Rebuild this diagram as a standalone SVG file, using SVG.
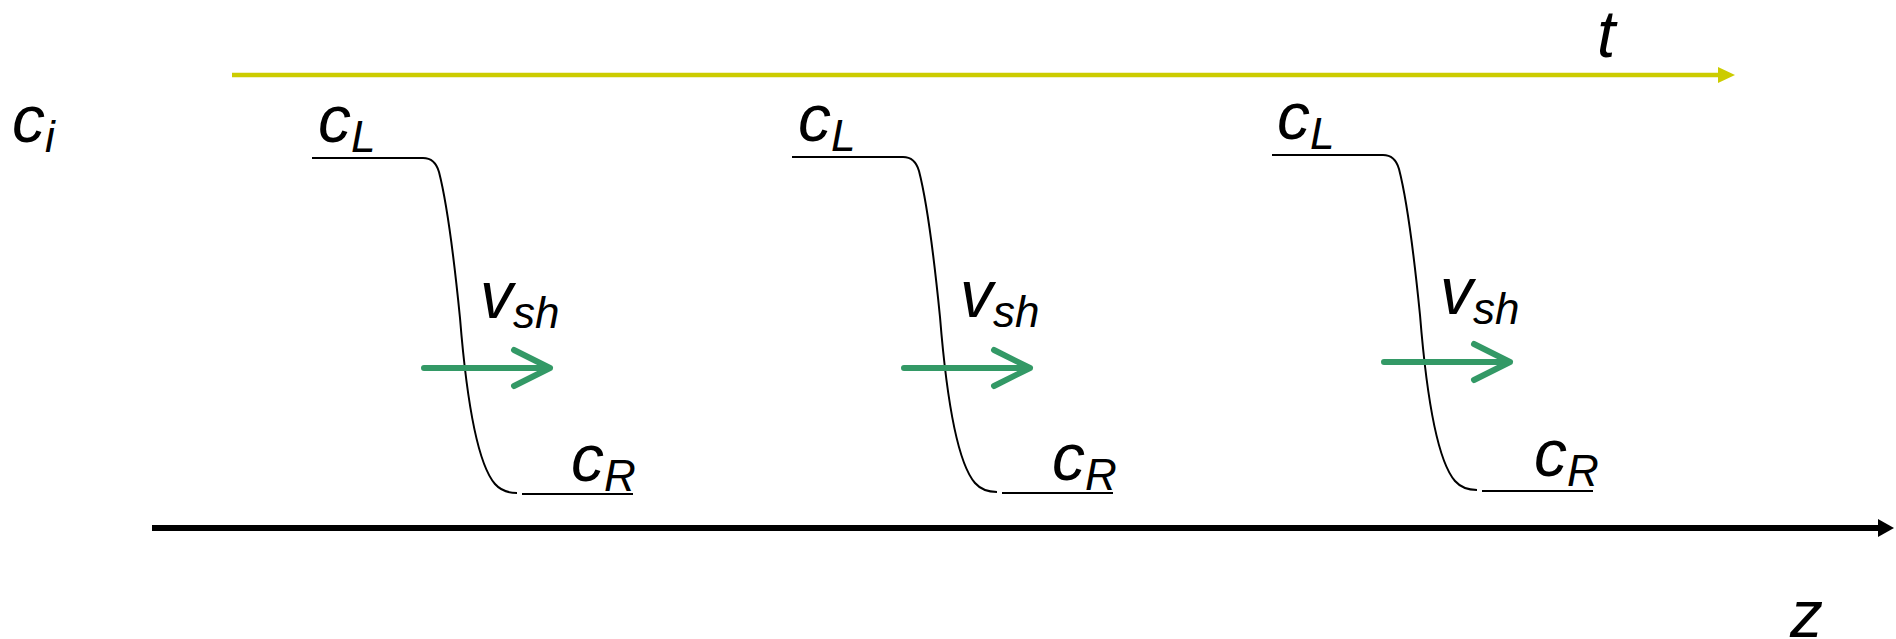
<svg xmlns="http://www.w3.org/2000/svg" width="1896" height="639" viewBox="0 0 1896 639">
<style>
.lbl{font-family:"Liberation Sans",Arial,sans-serif;font-style:italic;font-size:66px;fill:#000}
.sub{font-size:44px}
.curve{fill:none;stroke:#000;stroke-width:2}
.vel{fill:none;stroke:#339966;stroke-width:6;stroke-linecap:round;stroke-linejoin:round}
</style>
<defs>
<path id="front" d="M -111,0 H 0 Q 12,0 16,14 C 24,45 32,110 37,160 C 42,222 52,303 72,326 Q 80,335 94,335 M 99,336 H 210"/>
</defs>
<g id="connectors">
<g id="t-axis">
<line x1="232" y1="75" x2="1720" y2="75" stroke="#cccc00" stroke-width="4.5"/>
<polygon points="1718,67 1735,75 1718,83" fill="#cccc00"/>
</g>
<g id="z-axis">
<line x1="152" y1="528" x2="1880" y2="528" stroke="#000" stroke-width="6"/>
<polygon points="1878,519 1894,528 1878,537" fill="#000"/>
</g>
</g>
<g id="label-ci"><text class="lbl" x="12" y="142">c<tspan class="sub" dy="10">i</tspan></text></g>
<g id="label-t"><text class="lbl" x="1597" y="57">t</text></g>
<g id="label-z"><text class="lbl" x="1790" y="637">z</text></g>
<g id="front1">
<use href="#front" class="curve" transform="translate(423,158)"/>
<text class="lbl" x="318" y="142">c<tspan class="sub" dy="10">L</tspan></text>
<text class="lbl" x="480" y="318">v<tspan class="sub" dy="10">sh</tspan></text>
<path class="vel" d="M 424,368 H 550 M 514,350 L 550,368 L 514,386"/>
<text class="lbl" x="571" y="481">c<tspan class="sub" dy="10">R</tspan></text>
</g>
<g id="front2">
<use href="#front" class="curve" transform="translate(903,157)"/>
<text class="lbl" x="798" y="141">c<tspan class="sub" dy="10">L</tspan></text>
<text class="lbl" x="960" y="317">v<tspan class="sub" dy="10">sh</tspan></text>
<path class="vel" d="M 904,368 H 1030 M 994,350 L 1030,368 L 994,386"/>
<text class="lbl" x="1052" y="480">c<tspan class="sub" dy="10">R</tspan></text>
</g>
<g id="front3">
<use href="#front" class="curve" transform="translate(1383,155)"/>
<text class="lbl" x="1277" y="139">c<tspan class="sub" dy="10">L</tspan></text>
<text class="lbl" x="1440" y="314">v<tspan class="sub" dy="10">sh</tspan></text>
<path class="vel" d="M 1384,362 H 1510 M 1474,344 L 1510,362 L 1474,380"/>
<text class="lbl" x="1534" y="476">c<tspan class="sub" dy="10">R</tspan></text>
</g>
</svg>
